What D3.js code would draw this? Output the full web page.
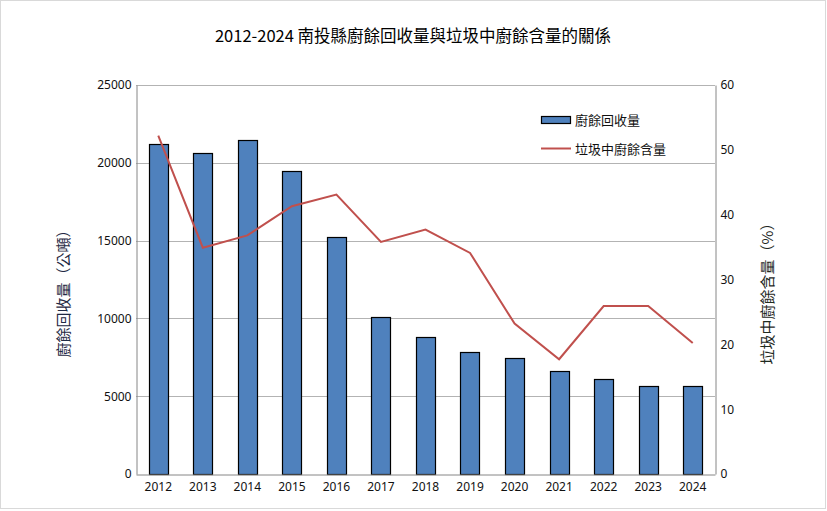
<!DOCTYPE html>
<html><head><meta charset="utf-8">
<script src="https://cdn.jsdelivr.net/npm/d3@7"></script>
<style>body{margin:0;background:#fff;}svg{display:block;font-family:"Noto Sans CJK TC","Noto Sans",sans-serif;}</style>
</head><body>
<svg id="c" width="827" height="511"></svg>
<script>
const years = ["2012","2013","2014","2015","2016","2017","2018","2019","2020","2021","2022","2023","2024"];
const recycled = [21200,20600,21450,19470,15200,10100,8790,7820,7440,6600,6090,5660,5660];
const share = [52.2,34.9,36.8,41.3,43.1,35.8,37.7,34.1,23.2,17.7,25.9,25.9,20.2];
const leftTicks = [0,5000,10000,15000,20000,25000];
const rightTicks = [0,10,20,30,40,50,60];
const title = "2012-2024 南投縣廚餘回收量與垃圾中廚餘含量的關係";
const leftLabel = "廚餘回收量（公噸）";
const rightLabel = "垃圾中廚餘含量（%）";
const legendNames = ["廚餘回收量","垃圾中廚餘含量"];

const svg = d3.select("#c");
const L=136,R=715,T=85,B=474;
svg.append("rect").attr("x",0.5).attr("y",0.5).attr("width",825).attr("height",508)
  .attr("fill","#fff").attr("stroke","#d9d9d9");

const x = d3.scaleBand().domain(years).range([L,R]).paddingInner(0.57).paddingOuter(0.285);
const y = d3.scaleLinear().domain([0,25000]).range([B,T]);
const y2 = d3.scaleLinear().domain([0,60]).range([B,T]);

// grid
svg.append("g").selectAll("line").data(leftTicks.slice(1)).join("line")
  .attr("x1",L).attr("x2",R).attr("y1",d=>Math.round(y(d))+0.5).attr("y2",d=>Math.round(y(d))+0.5)
  .attr("stroke","#b3b3b3");

// bars
svg.append("g").selectAll("rect").data(years).join("rect")
  .attr("x",d=>Math.round(x(d))+0.5).attr("width",Math.round(x.bandwidth()))
  .attr("y",(d,i)=>Math.round(y(recycled[i]))+0.5).attr("height",(d,i)=>B-Math.round(y(recycled[i])))
  .attr("fill","#4f81bd").attr("stroke","#000").attr("stroke-width",1.2);

// axes
const ax = g=>{g.select(".domain").attr("stroke","#868686");g.selectAll(".tick line").remove();
  g.selectAll("text").attr("fill","#111").style("font-size","12px").style("font-family","'Noto Sans','DejaVu Sans',sans-serif");};
svg.append("g").attr("transform",`translate(${L+0.5},0)`)
  .call(d3.axisLeft(y).tickValues(leftTicks).tickFormat(d3.format("d")).tickSize(0).tickPadding(5).tickSizeOuter(0)).call(ax);
svg.append("g").attr("transform",`translate(${R+0.5},0)`)
  .call(d3.axisRight(y2).tickValues(rightTicks).tickFormat(d3.format("d")).tickSize(0).tickPadding(5).tickSizeOuter(0)).call(ax);
svg.append("g").attr("transform",`translate(0,${B+0.5})`)
  .call(d3.axisBottom(x).tickSize(0).tickPadding(8).tickSizeOuter(0)).call(ax);

// line
svg.append("path").datum(share)
  .attr("d",d3.line().x((d,i)=>x(years[i])+x.bandwidth()/2).y(d=>y2(d)))
  .attr("fill","none").attr("stroke","#c0504d").attr("stroke-width",2);

// title
svg.append("text").attr("x",413).attr("y",42).attr("text-anchor","middle")
  .style("font-size","16.5px").attr("fill","#000").text(title);
// axis labels
svg.append("text").attr("transform","translate(69,290) rotate(-90)").attr("text-anchor","middle")
  .style("font-size","15px").attr("fill","#1f2a44").text(leftLabel);
svg.append("text").attr("transform","translate(773,290) rotate(-90)").attr("text-anchor","middle")
  .style("font-size","15px").attr("fill","#1f2a1f").text(rightLabel);

// legend
const lg = svg.append("g");
lg.append("rect").attr("x",541.5).attr("y",116.5).attr("width",29).attr("height",7)
  .attr("fill","#4f81bd").attr("stroke","#000").attr("stroke-width",1.2);
lg.append("line").attr("x1",541).attr("x2",571).attr("y1",148.5).attr("y2",148.5)
  .attr("stroke","#c0504d").attr("stroke-width",2);
lg.selectAll("text").data(legendNames).join("text")
  .attr("x",575).attr("y",(d,i)=>i?153.5:125).style("font-size","13px").attr("fill","#111").text(d=>d);
</script>
</body></html>
